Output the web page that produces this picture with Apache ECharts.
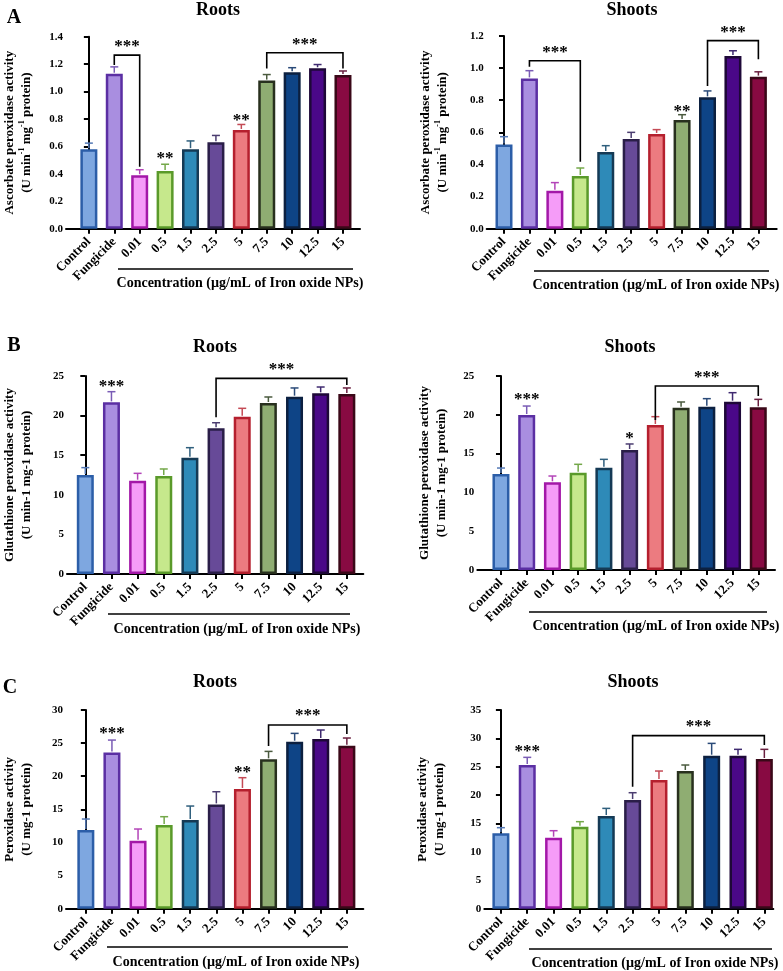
<!DOCTYPE html>
<html>
<head>
<meta charset="utf-8">
<script src="https://cdn.jsdelivr.net/npm/echarts@6/dist/echarts.min.js"></script>
<style>html,body{margin:0;padding:0;background:#fff;}#chart{width:783px;height:971px;}</style>
</head>
<body>
<div id="chart"></div>
<script>
// ---------- DATA ----------
const categories = ['Control','Fungicide','0.01','0.5','1.5','2.5','5','7.5','10','12.5','15'];

const apxRootsMean  = [0.58, 1.13, 0.39, 0.42, 0.58, 0.63, 0.72, 1.08, 1.14, 1.17, 1.12];
const apxRootsErr   = [0.044, 0.05, 0.04, 0.05, 0.06, 0.05, 0.04, 0.044, 0.034, 0.027, 0.03];
const apxShootsMean = [0.525, 0.936, 0.237, 0.328, 0.477, 0.558, 0.59, 0.677, 0.818, 1.075, 0.947];
const apxShootsErr  = [0.048, 0.048, 0.05, 0.05, 0.04, 0.042, 0.027, 0.033, 0.04, 0.033, 0.03];

const gpxRootsMean  = [12.5, 21.67, 11.78, 12.37, 14.69, 18.39, 19.87, 21.59, 22.39, 22.81, 22.73];
const gpxRootsErr   = [0.93, 1.35, 0.93, 0.89, 1.26, 0.71, 1.05, 0.76, 1.1, 0.8, 0.76];
const gpxShootsMean = [12.37, 19.97, 11.3, 12.54, 13.19, 15.46, 18.69, 20.92, 21.05, 21.69, 20.96];
const gpxShootsErr  = [0.77, 1.16, 0.81, 1.08, 1.07, 0.78, 1.07, 0.73, 1.03, 1.16, 1.03];

const poxRootsMean  = [11.88, 23.6, 10.27, 12.63, 13.39, 15.75, 18.07, 22.55, 25.21, 25.62, 24.61];
const poxRootsErr   = [1.66, 1.86, 1.76, 1.26, 2.11, 1.91, 1.71, 1.2, 1.26, 1.36, 1.16];
const poxShootsMean = [13.27, 25.31, 12.51, 14.45, 16.32, 19.14, 22.66, 24.25, 26.95, 26.95, 26.37];
const poxShootsErr  = [1.0, 1.35, 1.23, 0.88, 1.35, 1.29, 1.59, 1.06, 2.17, 1.12, 1.7];

// brackets: [fromCat, toCat, topY, leftEndY, rightEndY, starsY]
const apxRootsBrackets  = [[1, 2, 1.266, 1.193, 0.452, 1.351], [7, 10, 1.283, 1.169, 1.169, 1.364]];
const apxShootsBrackets = [[1, 3, 1.046, 1.009, 0.417, 1.117], [8, 10, 1.171, 0.889, 1.055, 1.241]];
const gpxRootsBrackets  = [[5, 10, 24.7, 19.78, 23.86, 26.2]];
const gpxShootsBrackets = [[6, 10, 23.71, 19.33, 22.42, 25.13]];
const poxRootsBrackets  = [[7, 10, 27.73, 24.56, 26.37, 29.6]];
const poxShootsBrackets = [[5, 10, 30.48, 21.49, 28.83, 32.53]];
const bracketLabel = '***';

// single significance marks: [cat, y], labels
const apxRootsMarks  = [[3, 0.53], [6, 0.812]];
const apxRootsMarkLabels  = ['**', '**'];
const apxShootsMarks = [[7, 0.749]];
const apxShootsMarkLabels = ['**'];
const gpxRootsMarks  = [[1, 24.07]];
const gpxRootsMarkLabels  = ['***'];
const gpxShootsMarks = [[1, 22.34], [5, 17.27]];
const gpxShootsMarkLabels = ['***', '*'];
const poxRootsMarks  = [[1, 26.87], [6, 20.94]];
const poxRootsMarkLabels  = ['***', '**'];
const poxShootsMarks = [[1, 28.13]];
const poxShootsMarkLabels = ['***'];

// ---------- STYLE ----------
const barFill   = ['#7ea7e0','#a98ee0','#f59cf8','#c6e88c','#2e8ab8','#674a98','#ec7b80','#8fad72','#0e4486','#4a0888','#880a42'];
const barBorder = ['#2c5ea8','#5b2fa3','#a318a8','#5a9a2a','#153a55','#2a1e48','#b5202e','#28301e','#0c2040','#1e0838','#3a0818'];
const errColor  = ['#5378b5','#7a5cb5','#b344b8','#74a84a','#2f5f7d','#4b3d70','#c44a55','#4a5a3e','#2a4a78','#3f2a70','#6a2040'];
const FONT = '"Liberation Serif", "Times New Roman", serif';

const supName = 'Ascorbate peroxidase activity\n(U min{sup|-1} mg{sup|-1} protein)';

const panels = [
  {left:65, right:360, top:36.7, bottom:228.7, xMin:-0.9, xMax:10.67, yMax:1.4, yInt:0.2, dec:1,
   mean:apxRootsMean, err:apxRootsErr, br:apxRootsBrackets, mk:apxRootsMarks, mkl:apxRootsMarkLabels,
   yName:supName, nameGap:31, title:'Roots', tx:218, ty:10, letter:'A', lx:14, ly:18,
   ul:[118,353,269], cx:240, cy:283},
  {left:486.7, right:776.7, top:36, bottom:228.7, xMin:-0.68, xMax:10.72, yMax:1.2, yInt:0.2, dec:1,
   mean:apxShootsMean, err:apxShootsErr, br:apxShootsBrackets, mk:apxShootsMarks, mkl:apxShootsMarkLabels,
   yName:supName, nameGap:36, title:'Shoots', tx:632, ty:10,
   ul:[534,769,271], cx:656, cy:285},
  {left:65, right:363.3, top:376, bottom:574, xMin:-0.7, xMax:10.63, yMax:25, yInt:5, dec:0,
   mean:gpxRootsMean, err:gpxRootsErr, br:gpxRootsBrackets, mk:gpxRootsMarks, mkl:gpxRootsMarkLabels,
   yName:'Glutathione peroxidase activity\n(U min-1 mg-1 protein)', nameGap:32, title:'Roots', tx:215, ty:347, letter:'B', lx:14, ly:346,
   ul:[108,350,614], cx:237, cy:629},
  {left:477.3, right:775, top:376, bottom:570, xMin:-0.92, xMax:10.65, yMax:25, yInt:5, dec:0,
   mean:gpxShootsMean, err:gpxShootsErr, br:gpxShootsBrackets, mk:gpxShootsMarks, mkl:gpxShootsMarkLabels,
   yName:'Glutathione peroxidase activity\n(U min-1 mg-1 protein)', nameGap:27, title:'Shoots', tx:630, ty:347,
   ul:[529,767,612], cx:656, cy:626},
  {left:63.3, right:363.3, top:710, bottom:908.7, xMin:-0.76, xMax:10.63, yMax:30, yInt:5, dec:0,
   mean:poxRootsMean, err:poxRootsErr, br:poxRootsBrackets, mk:poxRootsMarks, mkl:poxRootsMarkLabels,
   yName:'Peroxidase activity\n(U mg-1 protein)', nameGap:31, title:'Roots', tx:215, ty:682, letter:'C', lx:10, ly:688,
   ul:[107,348,947], cx:236, cy:962},
  {left:484.3, right:773.3, top:710, bottom:908.7, xMin:-0.63, xMax:10.34, yMax:35, yInt:5, dec:0,
   mean:poxShootsMean, err:poxShootsErr, br:poxShootsBrackets, mk:poxShootsMarks, mkl:poxShootsMarkLabels,
   yName:'Peroxidase activity\n(U mg-1 protein)', nameGap:36, title:'Shoots', tx:633, ty:682,
   ul:[529,772,949], cx:655, cy:963}
];

const tickVals = categories.map((c, i) => i);

const grid = [], xAxis = [], yAxis = [], series = [], graphic = [];

function txt(x, y, text, size) {
  return {type:'text', x:x, y:y, z:100,
    style:{text:text, fill:'#000', font:'bold ' + size + 'px ' + FONT,
      align:'center', verticalAlign:'middle', textAlign:'center', textVerticalAlign:'middle'}};
}

panels.forEach((p, k) => {
  grid.push({left:p.left, top:p.top, width:p.right - p.left, height:p.bottom - p.top, containLabel:false});
  xAxis.push({
    gridIndex:k, type:'value', min:p.xMin, max:p.xMax,
    splitLine:{show:false},
    axisLine:{show:true, onZero:false, lineStyle:{color:'#000', width:2}},
    axisTick:{show:true, customValues:tickVals, length:5, lineStyle:{color:'#000', width:2}},
    axisLabel:{show:true, customValues:tickVals, rotate:45, margin:11,
      formatter:v => categories[Math.round(v)],
      fontFamily:FONT, fontWeight:'bold', fontSize:13, color:'#000'}
  });
  yAxis.push({
    gridIndex:k, type:'value', min:0, max:p.yMax, interval:p.yInt,
    splitLine:{show:false},
    axisLine:{show:true, lineStyle:{color:'#000', width:2}},
    axisTick:{show:true, length:5, lineStyle:{color:'#000', width:2}},
    axisLabel:{fontFamily:FONT, fontWeight:'bold', fontSize:11, color:'#000', margin:3,
      formatter:v => v.toFixed(p.dec)},
    name:p.yName, nameLocation:'middle', nameRotate:90, nameGap:p.nameGap,
    nameTextStyle:{fontFamily:FONT, fontWeight:'bold', fontSize:13, color:'#000', lineHeight:17,
      rich:{sup:{fontFamily:FONT, fontWeight:'bold', fontSize:8, color:'#000', verticalAlign:'top', lineHeight:10}}}
  });
  // bars
  series.push({
    type:'bar', xAxisIndex:k, yAxisIndex:k, barWidth:17, z:2, animation:false,
    itemStyle:{borderWidth:2.5, borderType:'solid'},
    data:p.mean.map((m, i) => ({value:[i, m], itemStyle:{color:barFill[i], borderColor:barBorder[i], borderWidth:2.5}}))
  });
  // error bars
  series.push({
    type:'custom', xAxisIndex:k, yAxisIndex:k, z:3, animation:false,
    data:p.mean.map((m, i) => [i, m, p.err[i]]),
    encode:{x:0, y:1},
    renderItem:(params, api) => {
      const i = api.value(0), m = api.value(1), e = api.value(2);
      const a = api.coord([i, m]), b = api.coord([i, m + e]);
      const c = errColor[params.dataIndex];
      return {type:'group', children:[
        {type:'line', shape:{x1:a[0], y1:a[1] - 1, x2:b[0], y2:b[1]}, style:{stroke:c, lineWidth:1.5}},
        {type:'line', shape:{x1:b[0] - 4, y1:b[1], x2:b[0] + 4, y2:b[1]}, style:{stroke:c, lineWidth:1.5}}
      ]};
    }
  });
  // brackets
  series.push({
    type:'custom', xAxisIndex:k, yAxisIndex:k, z:4, animation:false, clip:false,
    data:p.br, encode:{x:0, y:2},
    renderItem:(params, api) => {
      const f = api.value(0), t = api.value(1), top = api.value(2), le = api.value(3), re = api.value(4), sy = api.value(5);
      const p1 = api.coord([f, le]), p2 = api.coord([f, top]), p3 = api.coord([t, top]), p4 = api.coord([t, re]);
      const s = api.coord([(f + t) / 2, sy]);
      return {type:'group', children:[
        {type:'polyline', shape:{points:[p1, p2, p3, p4]}, style:{stroke:'#000', lineWidth:1.6, fill:null}},
        {type:'text', x:s[0], y:s[1] + 3, style:{text:bracketLabel, fill:'#000', font:'bold 17px ' + FONT,
          align:'center', verticalAlign:'middle', textAlign:'center', textVerticalAlign:'middle'}}
      ]};
    }
  });
  // single marks
  series.push({
    type:'custom', xAxisIndex:k, yAxisIndex:k, z:4, animation:false, clip:false,
    data:p.mk, encode:{x:0, y:1},
    renderItem:(params, api) => {
      const s = api.coord([api.value(0), api.value(1)]);
      return {type:'text', x:s[0], y:s[1] + 3, style:{text:p.mkl[params.dataIndex], fill:'#000', font:'bold 17px ' + FONT,
        align:'center', verticalAlign:'middle', textAlign:'center', textVerticalAlign:'middle'}};
    }
  });
  // decorations
  graphic.push(txt(p.tx, p.ty, p.title, 18));
  if (p.letter) graphic.push(txt(p.lx, p.ly, p.letter, 20));
  graphic.push({type:'line', z:100, shape:{x1:p.ul[0], y1:p.ul[2], x2:p.ul[1], y2:p.ul[2]}, style:{stroke:'#000', lineWidth:1.5}});
  graphic.push(txt(p.cx, p.cy, 'Concentration (µg/mL of Iron oxide NPs)', 14));
});

const chart = echarts.init(document.getElementById('chart'), null, {renderer:'canvas'});
chart.setOption({
  backgroundColor:'#fff',
  animation:false,
  grid:grid, xAxis:xAxis, yAxis:yAxis, series:series, graphic:graphic
});
</script>
</body>
</html>
